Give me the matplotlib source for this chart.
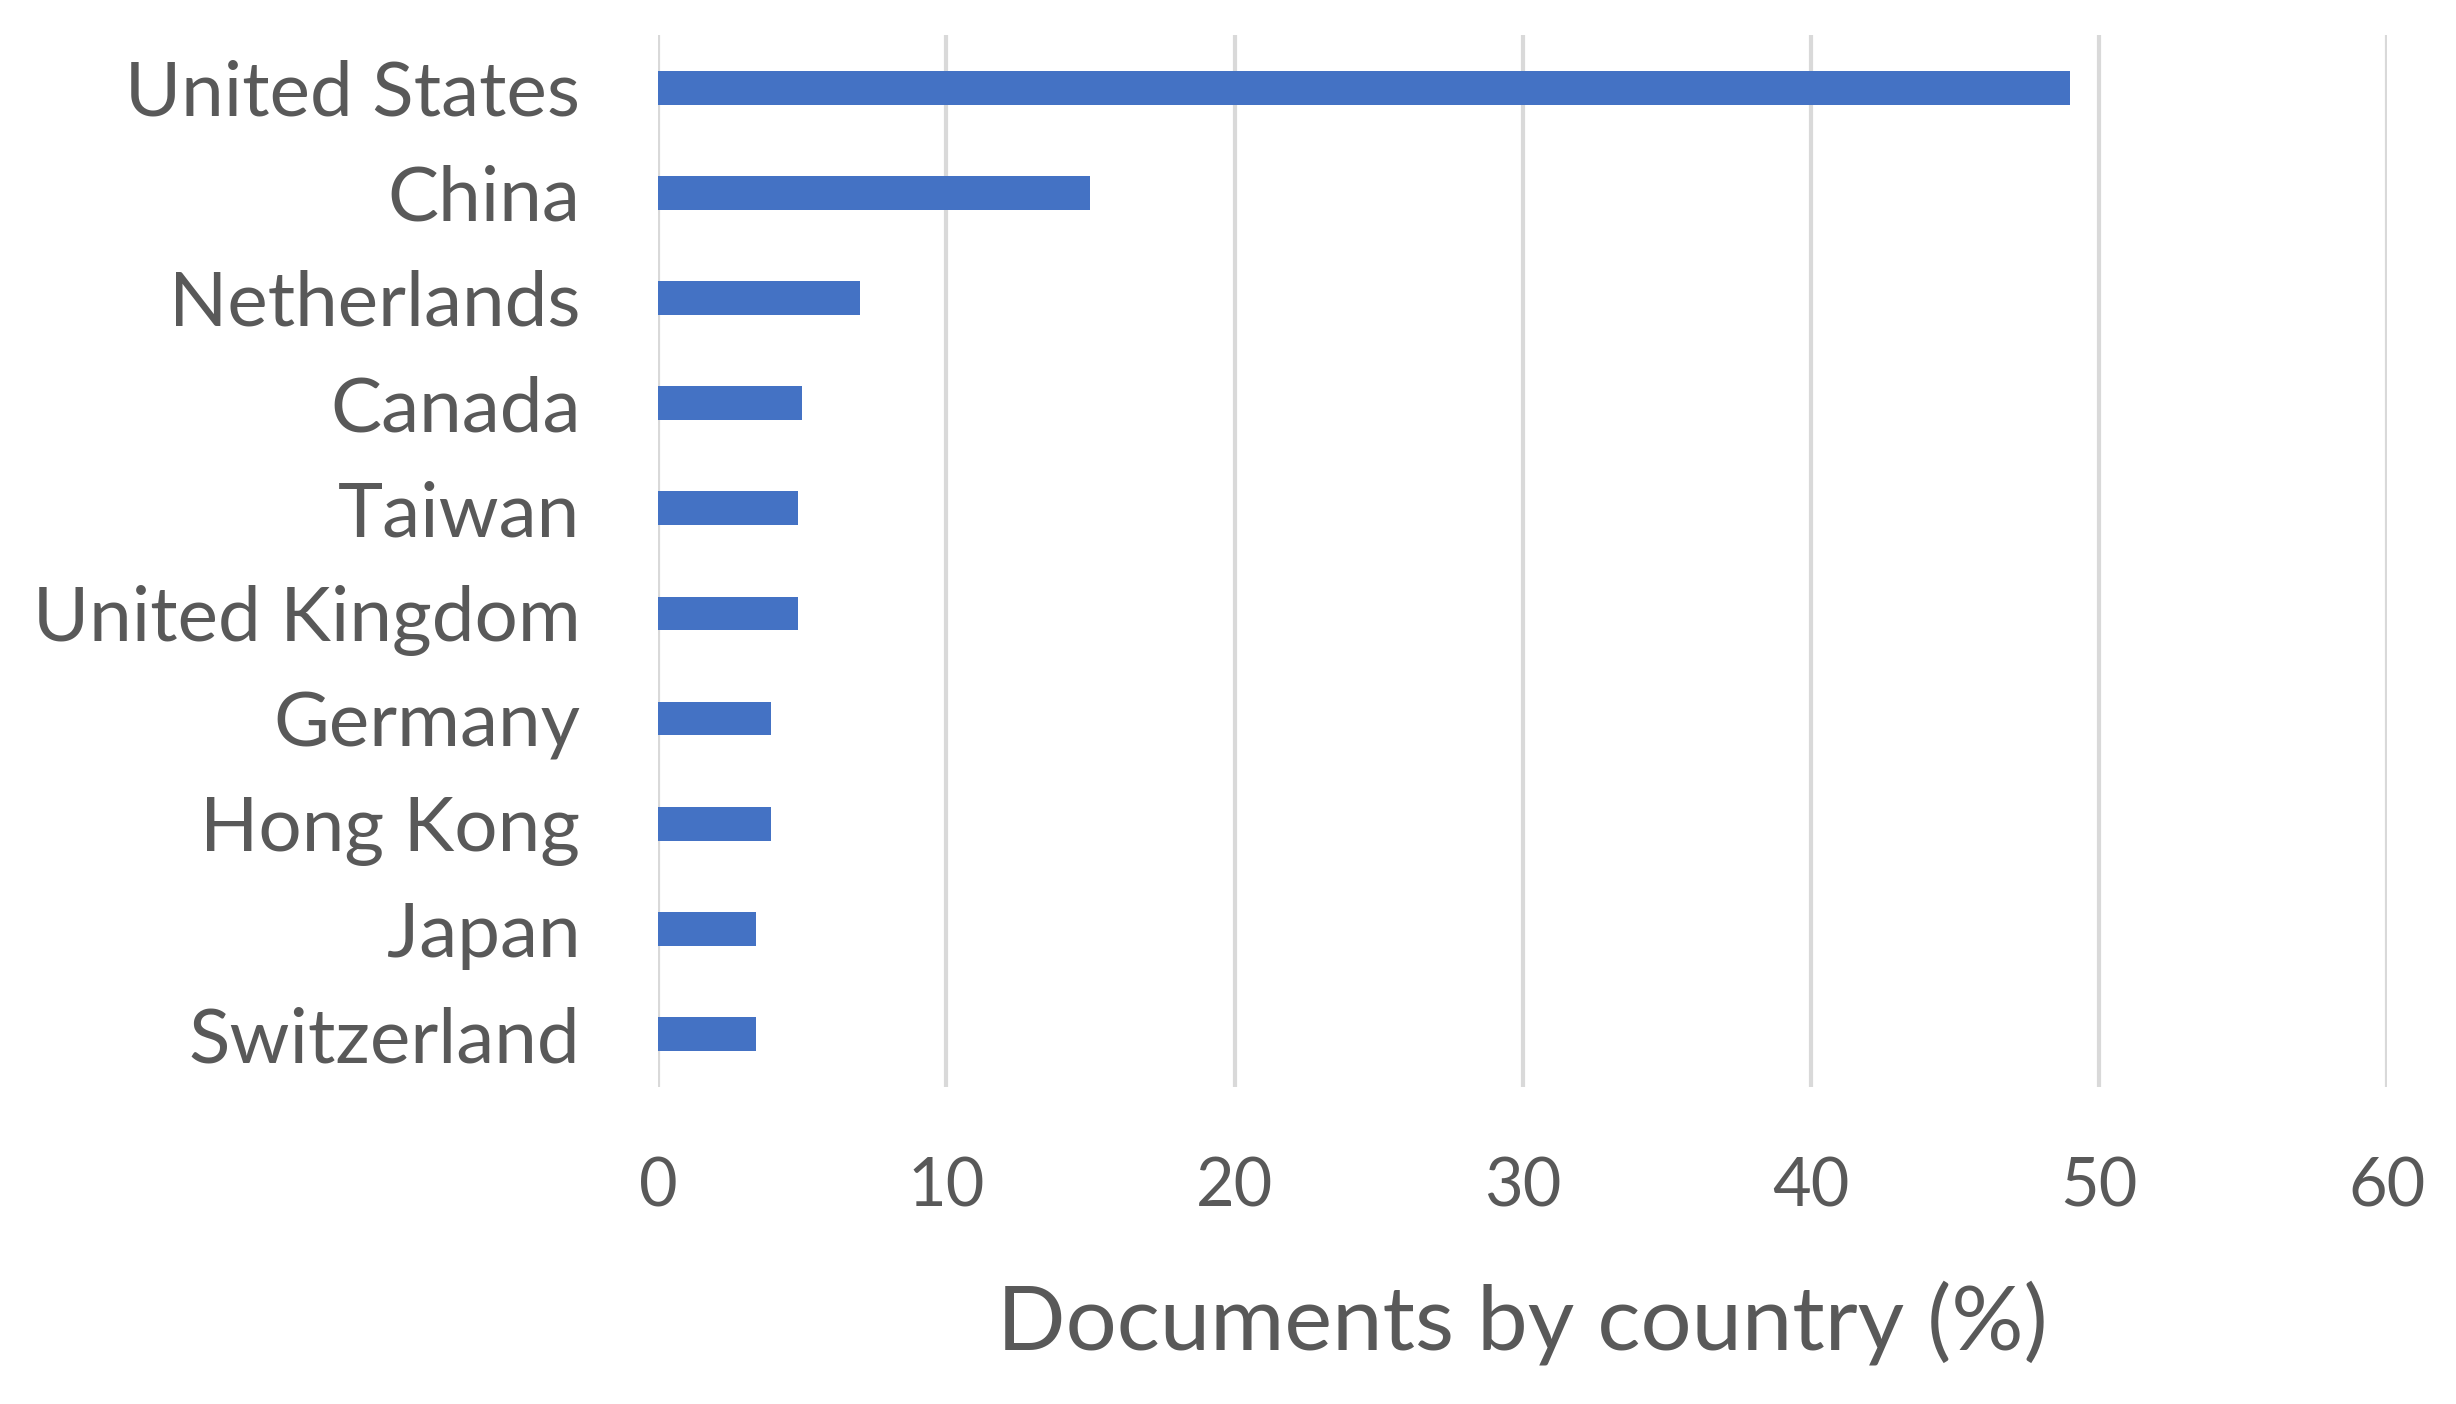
import matplotlib
matplotlib.use("Agg")
import matplotlib.pyplot as plt

# values (percent of documents)
countries = ["United States", "China", "Netherlands", "Canada", "Taiwan",
             "United Kingdom", "Germany", "Hong Kong", "Japan", "Switzerland"]
shares = [49.0, 15.0, 7.0, 5.0, 4.85, 4.85, 3.9, 3.9, 3.4, 3.4]
xticks = [0, 10, 20, 30, 40, 50, 60]

plt.rcParams['font.family'] = ['Lato', 'DejaVu Sans']
text_color = '#595959'

fig = plt.figure(figsize=(24.56, 14.04), dpi=100)
ax = fig.add_axes([0.268, 0.226, 0.704, 0.749])

ypos = list(range(len(countries)))
ax.barh(ypos, shares, height=0.32, color='#4472C4', zorder=3)

ax.set_ylim(len(countries) - 0.5, -0.5)
ax.set_xlim(0, 60)
ax.set_xticks(xticks)
ax.set_yticks(ypos)
ax.set_yticklabels(countries)

ax.grid(axis='x', color='#D9D9D9', linewidth=3, zorder=0)
for s in ax.spines.values():
    s.set_visible(False)
ax.tick_params(axis='both', length=0, colors=text_color)
ax.tick_params(axis='y', labelsize=55, pad=56)
ax.tick_params(axis='x', labelsize=48, pad=50)

ax.set_xlabel("Documents by country (%)", fontsize=65, color=text_color, labelpad=45)

fig.savefig("out.png", dpi=100, facecolor='white')
